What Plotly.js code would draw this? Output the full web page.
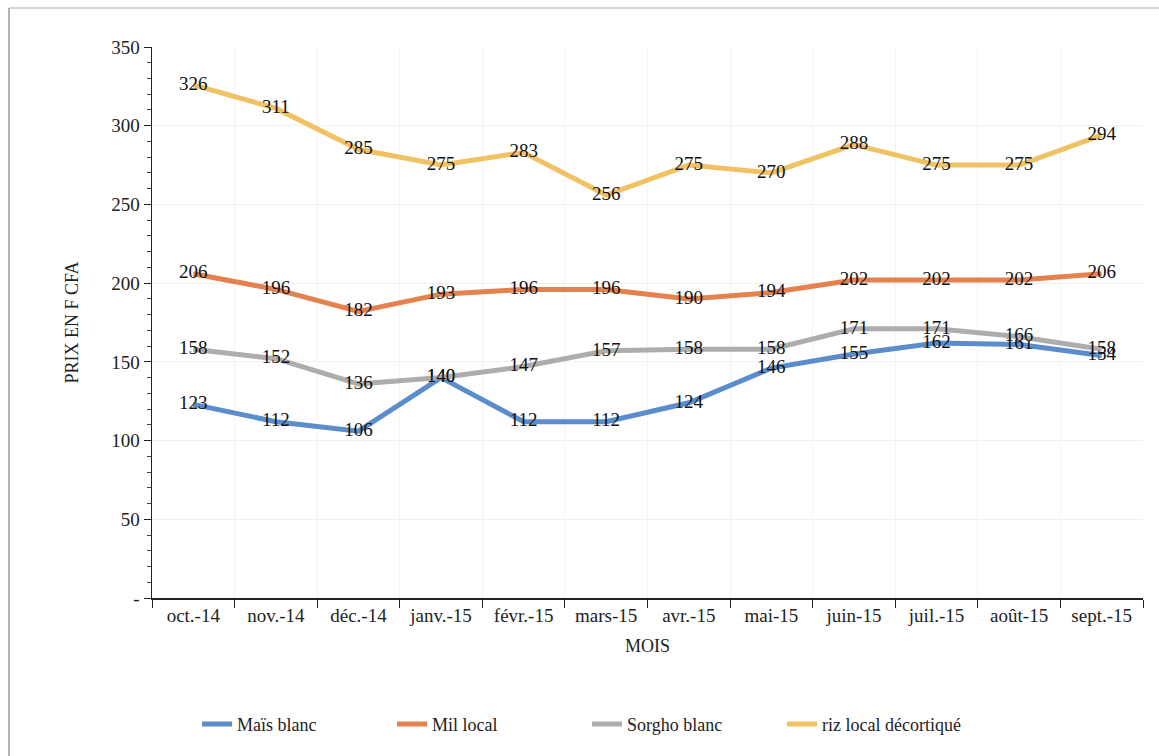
<!DOCTYPE html>
<html>
<head>
<meta charset="utf-8">
<script src="https://cdn.plot.ly/plotly-3.0.1.min.js"></script>
<style>
  html, body { margin: 0; padding: 0; background: #ffffff; }
  #chart { width: 1159px; height: 756px; }
</style>
</head>
<body>
<div id="chart"></div>
<script>
const months = ["oct.-14", "nov.-14", "déc.-14", "janv.-15", "févr.-15", "mars-15", "avr.-15", "mai-15", "juin-15", "juil.-15", "août-15", "sept.-15"];
const maisBlanc = [123, 112, 106, 140, 112, 112, 124, 146, 155, 162, 161, 154];
const milLocal = [206, 196, 182, 193, 196, 196, 190, 194, 202, 202, 202, 206];
const sorghoBlanc = [158, 152, 136, 140, 147, 157, 158, 158, 171, 171, 166, 158];
const rizLocal = [326, 311, 285, 275, 283, 256, 275, 270, 288, 275, 275, 294];
const seriesNames = ["Maïs blanc", "Mil local", "Sorgho blanc", "riz local décortiqué"];
const yTickVals = [0, 50, 100, 150, 200, 250, 300, 350];
const yTickText = ["-", "50", "100", "150", "200", "250", "300", "350"];

const colors = ["#5b8ccc", "#e4814f", "#adadad", "#f1c264"];
const FONT = "'Liberation Serif', 'Times New Roman', serif";

function mk(name, y, color) {
  return {
    type: "scatter",
    mode: "lines+text",
    name: name,
    x: months,
    y: y,
    text: y.map(String),
    textposition: "middle center",
    textfont: { family: FONT, size: 19, color: "#111" },
    line: { color: color, width: 5 },
    cliponaxis: false,
    hoverinfo: "x+y+name"
  };
}

const data = [
  mk(seriesNames[0], maisBlanc, colors[0]),
  mk(seriesNames[1], milLocal, colors[1]),
  mk(seriesNames[2], sorghoBlanc, colors[2]),
  mk(seriesNames[3], rizLocal, colors[3])
];

const layout = {
  width: 1159,
  height: 756,
  margin: { l: 152, r: 16, t: 47, b: 158 },
  paper_bgcolor: "#ffffff",
  plot_bgcolor: "#ffffff",
  font: { family: FONT, size: 18, color: "#222" },
  showlegend: true,
  legend: {
    orientation: "h",
    x: 0.439, xanchor: "center",
    y: -0.229, yanchor: "middle",
    font: { family: FONT, size: 18, color: "#222" },
    entrywidth: 150,
    entrywidthmode: "pixels",
    traceorder: "normal"
  },
  xaxis: {
    type: "category",
    range: [-0.5, 11.5],
    showline: true,
    linecolor: "#222",
    linewidth: 1.5,
    ticks: "outside",
    tickson: "boundaries",
    ticklen: 8,
    tickcolor: "#222",
    showgrid: true,
    gridcolor: "#f3f3f3",
    zeroline: false,
    tickfont: { family: FONT, size: 19, color: "#222" },
    title: { text: "MOIS", font: { family: FONT, size: 18, color: "#222" }, standoff: 14 },
    fixedrange: true
  },
  yaxis: {
    range: [0, 350],
    tickvals: yTickVals,
    ticktext: yTickText,
    showline: true,
    linecolor: "#222",
    linewidth: 1.5,
    ticks: "outside",
    ticklen: 7,
    tickcolor: "#222",
    minor: { dtick: 10, ticks: "outside", ticklen: 4, tickcolor: "#444", showgrid: false },
    showgrid: true,
    gridcolor: "#f0f0f0",
    zeroline: false,
    tickfont: { family: FONT, size: 19, color: "#222" },
    title: { text: "PRIX EN F CFA", font: { family: FONT, size: 18, color: "#222" }, standoff: 28 },
    fixedrange: true
  },
  shapes: [
    { type: "line", xref: "paper", yref: "paper", x0: -0.1443, x1: 1.02, y0: 1.0708, y1: 1.0708, line: { color: "#c8c8c8", width: 1.5 } },
    { type: "line", xref: "paper", yref: "paper", x0: -0.1443, x1: -0.1443, y0: 1.0708, y1: -0.29, line: { color: "#9a9a9a", width: 1.5 } }
  ]
};

Plotly.newPlot("chart", data, layout, { displayModeBar: false, staticPlot: true });
</script>
</body>
</html>
